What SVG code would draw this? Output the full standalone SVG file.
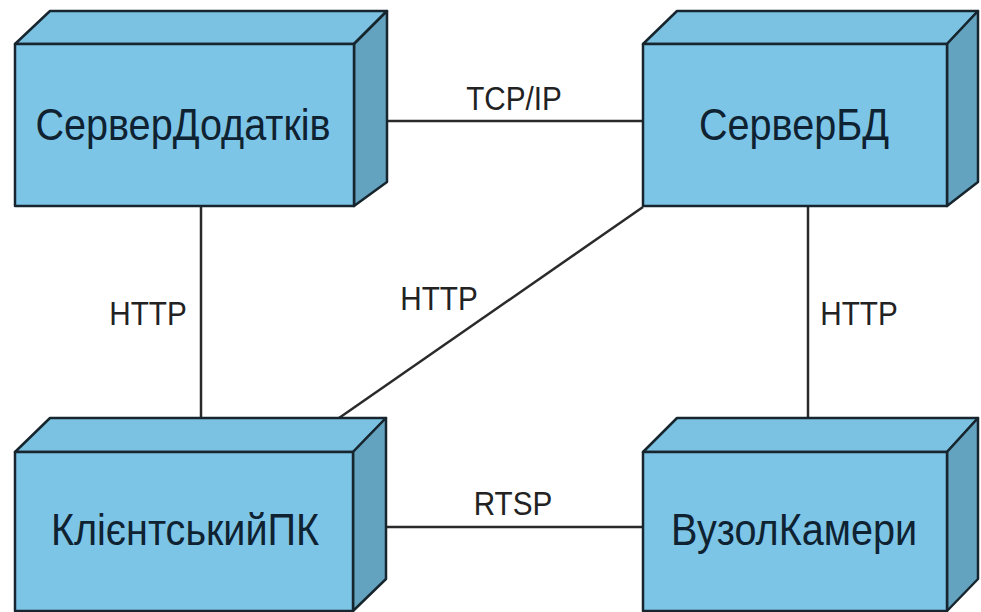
<svg xmlns="http://www.w3.org/2000/svg" width="981" height="612" viewBox="0 0 981 612">
  <style>
    .front { fill: #7dc5e7; stroke: #17262e; stroke-width: 2.5; stroke-linejoin: round; }
    .top { fill: #7bc2e2; stroke: #17262e; stroke-width: 2.5; stroke-linejoin: round; }
    .side { fill: #64a3c0; stroke: #17262e; stroke-width: 2.5; stroke-linejoin: round; }
    .name { font-family: "Liberation Sans", Arial, sans-serif; font-size: 44px; fill: #0f2231; text-anchor: middle; }
    .conn { stroke: #2a2a2a; stroke-width: 2.5; fill: none; }
    .lbl { font-family: "Liberation Sans", Arial, sans-serif; font-size: 33px; fill: #222; text-anchor: middle; }
  </style>
  <rect width="981" height="612" fill="#ffffff"/>

  <g id="connectors">
    <line class="conn" x1="387" y1="121" x2="643" y2="121"/>
    <line class="conn" x1="201" y1="206" x2="201" y2="418"/>
    <line class="conn" x1="643" y1="207" x2="339" y2="418"/>
    <line class="conn" x1="808" y1="206" x2="808" y2="418"/>
    <line class="conn" x1="386" y1="527" x2="643" y2="527"/>
    <text class="lbl" transform="translate(514 110) scale(0.9 1)">TCP/IP</text>
    <text class="lbl" transform="translate(148 325) scale(0.9 1)">HTTP</text>
    <text class="lbl" transform="translate(439 310) scale(0.9 1)">HTTP</text>
    <text class="lbl" transform="translate(859 325) scale(0.9 1)">HTTP</text>
    <text class="lbl" transform="translate(513 515) scale(0.9 1)">RTSP</text>
  </g>

  <g id="node-app-server">
    <polygon class="top" points="15,44 50,11 387,11 354,44"/>
    <polygon class="side" points="354,44 387,11 387,182 354,206"/>
    <rect class="front" x="15" y="44" width="339" height="162"/>
    <text class="name" transform="translate(183 140) scale(0.9 1)">СерверДодатків</text>
  </g>

  <g id="node-db-server">
    <polygon class="top" points="643,44 677,11 978,11 947,44"/>
    <polygon class="side" points="947,44 978,11 978,182 947,206"/>
    <rect class="front" x="643" y="44" width="304" height="162"/>
    <text class="name" transform="translate(794 140) scale(0.9 1)">СерверБД</text>
  </g>

  <g id="node-client-pc">
    <polygon class="top" points="15,452 50,418 386,418 353,452"/>
    <polygon class="side" points="353,452 386,418 386,579 353,611"/>
    <rect class="front" x="15" y="452" width="338" height="159"/>
    <text class="name" transform="translate(185 545) scale(0.9 1)">КлієнтськийПК</text>
  </g>

  <g id="node-camera">
    <polygon class="top" points="643,452 677,418 978,418 947,452"/>
    <polygon class="side" points="947,452 978,418 978,579 947,611"/>
    <rect class="front" x="643" y="452" width="304" height="159"/>
    <text class="name" transform="translate(794 545) scale(0.9 1)">ВузолКамери</text>
  </g>
</svg>
